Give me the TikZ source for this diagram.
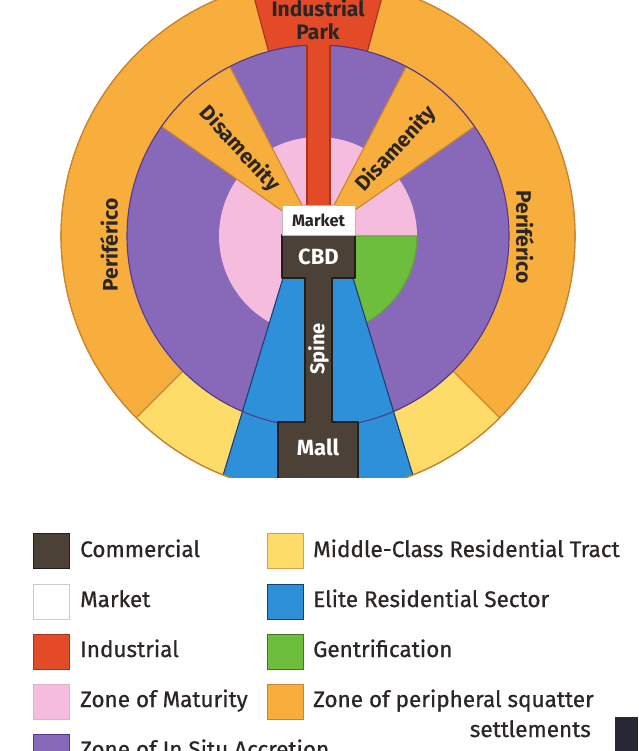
\documentclass[tikz,border=0pt]{standalone}
\usepackage{fontspec}
\setmainfont{Fira Sans}
\newfontfamily\legfont[FakeBold=0.6]{Fira Sans}
\usetikzlibrary{calc}
\definecolor{orangeZ}{HTML}{F8AE3C}
\definecolor{orangeD}{HTML}{C98530}
\definecolor{yellowZ}{HTML}{FDDC6A}
\definecolor{purpleZ}{HTML}{8868B8}
\definecolor{purpleD}{HTML}{55398F}
\definecolor{pinkZ}{HTML}{F6BCDD}
\definecolor{greenZ}{HTML}{6DBE3C}
\definecolor{greenD}{HTML}{5AA832}
\definecolor{redZ}{HTML}{E24A28}
\definecolor{redD}{HTML}{A8321A}
\definecolor{blueZ}{HTML}{2E90D8}
\definecolor{blueD}{HTML}{1A3F78}
\definecolor{darkZ}{HTML}{4B4137}
\definecolor{darkD}{HTML}{231E1A}
\definecolor{txt}{HTML}{2B2624}
\definecolor{corner}{HTML}{272833}
\begin{document}
\begin{tikzpicture}[x=1pt,y=1pt,
  zone/.style={line width=1.1pt, line join=round},
  lbl/.style={inner sep=0pt, text=txt, font=\bfseries\fontsize{21}{21}\selectfont},
  wlbl/.style={inner sep=0pt, text=white, font=\bfseries\fontsize{22}{22}\selectfont},
  leg/.style={inner sep=0pt, anchor=base west, text=txt, font=\legfont\fontsize{22.5}{26}\selectfont},
  sw/.style={line width=1.2pt, minimum width=36pt, minimum height=35pt, inner sep=0pt, anchor=north west}]
\useasboundingbox (0,0) rectangle (638,-751);
\fill[white] (0,0) rectangle (638,-751);
\coordinate (C) at (318,-236);
\begin{scope}
\clip (0,0) rectangle (638,-477);
% outer ring
\filldraw[zone, fill=orangeZ, draw=orangeD] (C) circle (257);
% middle-class tracts
\filldraw[zone, fill=yellowZ, draw=orangeD] ($(C)+(225:191)$) -- ($(C)+(225:257)$) arc[start angle=225, end angle=315, radius=257] -- ($(C)+(315:191)$) arc[start angle=315, end angle=225, radius=191] -- cycle;
% industrial park
\filldraw[zone, fill=redZ, draw=redD] ($(C)+(75:191)$) -- ($(C)+(75:257)$) arc[start angle=75, end angle=105, radius=257] -- ($(C)+(105:191)$) arc[start angle=105, end angle=75, radius=191] -- cycle;
% in situ accretion
\fill[purpleZ] (C) circle (191);
% maturity
\fill[pinkZ] (C) circle (99);
% gentrification
\filldraw[zone, fill=greenZ, draw=greenD] (C) -- ($(C)+(0:99)$) arc[start angle=0, end angle=-90, radius=99] -- cycle;
% disamenity
\filldraw[zone, fill=orangeZ, draw=orangeD] (C) -- ($(C)+(117.5:191)$) arc[start angle=117.5, end angle=145, radius=191] -- cycle;
\filldraw[zone, fill=orangeZ, draw=orangeD] (C) -- ($(C)+(35:191)$) arc[start angle=35, end angle=62.5, radius=191] -- cycle;
% elite sector
\begin{scope}
\clip (C) circle (257);
\filldraw[zone, fill=blueZ, draw=blueD] (283,-278) -- (218,-492) -- (418,-492) -- (353,-278) -- cycle;
\end{scope}
\draw[zone, draw=purpleD] (C) circle (191);
\draw[zone, draw=orangeD] (C) circle (257);
% industrial corridor
\fill[redZ] (307,-212) rectangle (330,-44);
\draw[zone, draw=redD] (307,-212) -- (307,-45.3) (330,-212) -- (330,-45.3);
% commercial spine
\filldraw[zone, fill=darkZ, draw=darkD] (282,-235) -- (355,-235) -- (355,-278) -- (332,-278) -- (332,-422) -- (358,-422) -- (358,-492) -- (278,-492) -- (278,-422) -- (305,-422) -- (305,-278) -- (282,-278) -- cycle;
% market
\filldraw[line width=0.8pt, fill=white, draw=gray!55] (282,-205) rectangle (355,-235);
% labels
\node[lbl, font=\bfseries\fontsize{16.5}{16.5}\selectfont] (market) at (318.5,-220) {Market};
\node[wlbl] (cbd) at (318.5,-257) {CBD};
\node[wlbl, font=\bfseries\fontsize{20}{20}\selectfont, rotate=90] (spine) at (318.5,-349) {Spine};
\node[wlbl] (mall) at (318,-447) {Mall};
\node[lbl, align=center, font=\bfseries\fontsize{21}{23}\selectfont] (park) at (318,-20) {Industrial\\Park};
\node[lbl, rotate=90] (perL) at (109,-245) {Periférico};
\node[lbl, rotate=-90] (perR) at (525,-237) {Periférico};
\node[lbl, rotate=-47.5] (disL) at ($(C)+(132:117)$) {Disamenity};
\node[lbl, rotate=47.5] (disR) at ($(C)+(48:117)$) {Disamenity};
\end{scope}
% legend
\node[sw, fill=darkZ, draw=darkD] (s1) at (33,-533) {};
\node[sw, fill=white, draw=gray!40] (s2) at (33,-584) {};
\node[sw, fill=redZ, draw=redD] (s3) at (33,-634) {};
\node[sw, fill=pinkZ, draw=pinkZ!80!gray] (s4) at (33,-684) {};
\node[sw, fill=purpleZ, draw=purpleD] (s5) at (33,-734) {};
\node[sw, fill=yellowZ, draw=orangeD!80] (s6) at (267,-533) {};
\node[sw, fill=blueZ, draw=blueD] (s7) at (267,-584) {};
\node[sw, fill=greenZ, draw=greenD!70!black] (s8) at (267,-634) {};
\node[sw, fill=orangeZ, draw=orangeD] (s9) at (267,-684) {};
\node[leg] (t1) at (80,-557) {Commercial};
\node[leg] (t2) at (80,-607) {Market};
\node[leg] (t3) at (80,-657) {Industrial};
\node[leg] (t4) at (80,-707) {Zone of Maturity};
\node[leg] (t5) at (80,-757) {Zone of In Situ Accretion};
\node[leg] (t6) at (313,-557) {Middle-Class Residential Tract};
\node[leg] (t7) at (313,-607) {Elite Residential Sector};
\node[leg] (t8) at (313,-657) {Gentrification};
\node[leg] (t9) at (313,-707) {Zone of peripheral squatter};
\node[leg, anchor=base east] (t10) at (591,-737) {settlements};
\fill[corner] (615,-717) rectangle (638,-751);
\end{tikzpicture}
\end{document}
